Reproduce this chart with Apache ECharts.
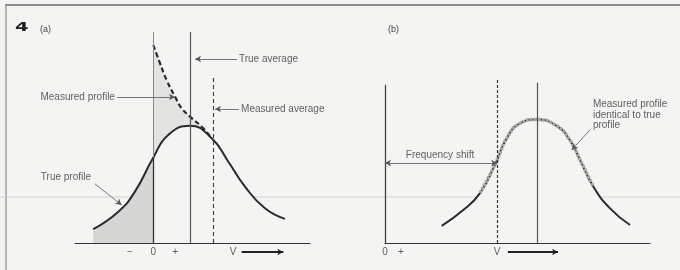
<!DOCTYPE html>
<html>
<head>
<meta charset="utf-8">
<script src="https://cdn.jsdelivr.net/npm/echarts@6/dist/echarts.min.js"></script>
<style>
  html, body { margin: 0; padding: 0; background: #f4f4f2; }
  #chart { width: 680px; height: 270px; }
</style>
</head>
<body>
<div id="chart"></div>
<script>
  // (a) true line profile as [velocity, intensity]
  var trueA = [[-3.07, 0.65], [-1.79, 1.48], [-0.94, 2.43], [0, 4.05], [0.76, 5.12], [1.87, 5.55],
    [2.98, 4.96], [3.83, 3.85], [4.68, 2.67], [5.70, 1.64], [6.72, 1.14]]
  // (a) measured profile (dashed), only exists on the + side of 0
  var measuredA = [[0, 9.38], [0.34, 8.52], [0.68, 7.72], [1.11, 6.93], [1.45, 6.38], [1.87, 5.99],
    [2.47, 5.51], [2.89, 5.07]]
  var trueAvgA = 1.9
  var measAvgA = 3.05

  // (b) shifted profile, measured = true
  var trueB = [[2.78, 0.81], [3.84, 1.56], [4.66, 2.36], [5.43, 3.78], [5.97, 4.96], [6.62, 5.67],
    [7.44, 5.85], [8.42, 5.55], [9.08, 4.86], [9.57, 3.93], [10.22, 2.67], [11.04, 1.64], [12.02, 0.85]]
  var measuredB = trueB.slice(2, 11)
  var shiftB = 5.5
  var centreB = 7.45

  // axis marks under the baseline
  var ticksA = [['\u2212', -1.19], ['0', 0], ['+', 1.11], ['V', 4.07]]
  var ticksB = [['0', 0], ['+', 0.78], ['V', shiftB]]
  var tickY = -0.43

  // callouts: [text, x, y, side]
  var notesA = [
    ['True average', 4.32, 8.72, 'right'],
    ['Measured average', 4.43, 6.35, 'right'],
    ['Measured profile', -1.91, 6.92, 'left'],
    ['True profile', -3.13, 3.13, 'left']
  ]
  var notesB = [
    ['Frequency shift', 2.7, 4.17, 'inside'],
    ['Measured profile\nidentical to true\nprofile', 10.15, 6.07, 'right']
  ]
  // arrows: [x1, y1, x2, y2]
  var arrowsA = [[4.27, 8.72, 2.13, 8.72], [4.37, 6.35, 3.15, 6.35], [-1.85, 6.92, 1.11, 6.92], [-2.98, 2.8, -1.62, 1.8]]
  var arrowsB = [[10.06, 5.36, 9.16, 4.41]]

  var bg = '#f4f4f2'
  var ink = '#2a2a2a'
  var font = 'Liberation Sans'

  function seg(x1, y1, x2, y2, style) {
    var d = [{ coord: [x1, y1] }, { coord: [x2, y2] }]
    if (style) d[0].lineStyle = style
    return d
  }

  function noteSeries(notes, gi) {
    return {
      type: 'scatter', xAxisIndex: gi, yAxisIndex: gi, symbolSize: 0, silent: true, z: 6,
      data: notes.map(function(n) {
        return {
          value: [n[1], n[2]],
          label: { show: true, position: n[3], distance: 1, formatter: n[0], fontFamily: font,
            fontSize: 10, color: '#383838', lineHeight: 10.5 }
        }
      })
    }
  }

  function tickSeries(ticks, gi) {
    return noteSeries(ticks.map(function(t) { return [t[0], t[1], tickY, 'inside'] }), gi)
  }

  function lineSeries(data, gi, z, lineStyle, areaColor) {
    var s = { type: 'line', xAxisIndex: gi, yAxisIndex: gi, data: data, smooth: true, symbol: 'none',
      silent: true, z: z, lineStyle: lineStyle }
    if (areaColor) s.areaStyle = { color: areaColor, opacity: 1 }
    return s
  }

  function marks(gi, z, symbol, data) {
    return { type: 'line', xAxisIndex: gi, yAxisIndex: gi, data: [], silent: true, z: z,
      markLine: { silent: true, symbol: symbol, symbolSize: [5, 6], label: { show: false },
        lineStyle: { color: '#555', width: 0.8, type: 'solid' }, data: data } }
  }

  var chart = echarts.init(document.getElementById('chart'), null, { renderer: 'canvas' })
  chart.setOption({
    backgroundColor: bg,
    animation: false,
    title: [
      { text: '(a)', left: 40, top: 25, padding: 0, textStyle: { fontSize: 9, fontWeight: 'normal', fontFamily: font, color: '#444' } },
      { text: '(b)', left: 388, top: 25, padding: 0, textStyle: { fontSize: 9, fontWeight: 'normal', fontFamily: font, color: '#444' } }
    ],
    graphic: [
      { type: 'line', z: -1, shape: { x1: 5, y1: 5, x2: 680, y2: 5 }, style: { stroke: '#6a6a6a', lineWidth: 1.5 } },
      { type: 'line', z: -1, shape: { x1: 6, y1: 5, x2: 6, y2: 270 }, style: { stroke: '#8a8a8a', lineWidth: 1.2 } },
      { type: 'line', z: -1, shape: { x1: 0, y1: 197, x2: 680, y2: 197 }, style: { stroke: '#d2d2d2', lineWidth: 1 } },
      // the figure number, a wide heavy "4"
      { type: 'text', x: 15, y: 21, scaleX: 1.5, style: { text: '4', font: 'bold 13px "DejaVu Sans"', fill: '#1e1e1e' } }
    ],
    grid: [
      { left: 75, width: 235, top: 32, height: 232 },
      { left: 385, width: 265, top: 32, height: 232 }
    ],
    xAxis: [
      { type: 'value', gridIndex: 0, min: -4, max: 8, z: 10,
        axisLine: { onZero: true, lineStyle: { color: '#333', width: 1.2 } },
        axisTick: { show: false }, axisLabel: { show: false }, splitLine: { show: false } },
      { type: 'value', gridIndex: 1, min: 0, max: 13, z: 10,
        axisLine: { onZero: true, lineStyle: { color: '#333', width: 1.2 } },
        axisTick: { show: false }, axisLabel: { show: false }, splitLine: { show: false } }
    ],
    yAxis: [
      { type: 'value', gridIndex: 0, min: -1, max: 10, show: false },
      { type: 'value', gridIndex: 1, min: -1, max: 10, show: false }
    ],
    series: [
      // (a) measured profile, light gray down to the axis
      lineSeries(measuredA, 0, 1, { width: 0 }, '#e3e3e1'),
      // (a) blank under the true profile, then gray on its - side
      lineSeries(trueA, 0, 1, { width: 0 }, bg),
      lineSeries(trueA.slice(0, 4), 0, 1, { width: 0 }, '#d6d6d4'),
      // (a) verticals
      marks(0, 3, 'none', [
        seg(0, 4.05, 0, 10, { color: '#8a8a8a', width: 1, type: 'solid' }),
        seg(0, 0, 0, 4.05, { color: '#333', width: 1.3, type: 'solid' }),
        seg(trueAvgA, 0, trueAvgA, 10, { color: '#555', width: 1.2, type: 'solid' }),
        seg(measAvgA, 0, measAvgA, 7.87, { color: '#444', width: 1.2, type: [4, 3] })
      ]),
      lineSeries(trueA, 0, 4, { color: ink, width: 2 }),
      lineSeries(measuredA, 0, 4, { color: ink, width: 2.2, type: [5, 3] }),
      // (a) arrows
      marks(0, 5, ['none', 'arrow'], arrowsA.map(function(a) { return seg(a[0], a[1], a[2], a[3]) }).concat([
        seg(4.51, tickY, 6.64, tickY, { color: '#222', width: 1.8, type: 'solid' })
      ])),
      noteSeries(notesA, 0),
      tickSeries(ticksA, 0),

      // (b) blank under the profile
      lineSeries(trueB, 1, 1, { width: 0 }, bg),
      marks(1, 3, 'none', [
        seg(0, 0, 0, 7.5, { color: '#444', width: 1.3, type: 'solid' }),
        seg(centreB, 0, centreB, 7.6, { color: '#555', width: 1.2, type: 'solid' }),
        seg(shiftB, 0, shiftB, 7.77, { color: '#333', width: 1.2, type: [3, 2] })
      ]),
      lineSeries(trueB, 1, 4, { color: ink, width: 2 }),
      lineSeries(measuredB, 1, 4, { color: '#a8a8a6', width: 3.5, type: [3, 1] }),
      marks(1, 5, ['none', 'arrow'], arrowsB.map(function(a) { return seg(a[0], a[1], a[2], a[3]) }).concat([
        seg(6.03, tickY, 8.49, tickY, { color: '#222', width: 1.8, type: 'solid' })
      ])),
      marks(1, 5, ['arrow', 'arrow'], [seg(0, 3.79, shiftB, 3.79)]),
      noteSeries(notesB, 1),
      tickSeries(ticksB, 1)
    ]
  })
</script>
</body>
</html>
